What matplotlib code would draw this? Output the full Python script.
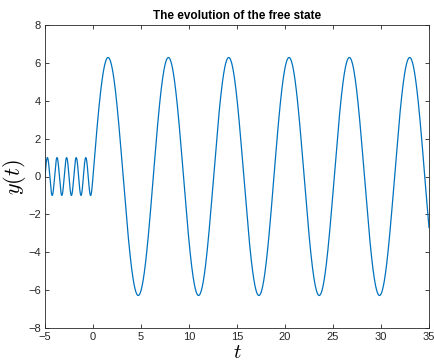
import numpy as np
import matplotlib.pyplot as plt

# curve parameters
t_start, t_switch, t_end = -5.0, 0.0, 35.0
amp_before, period_before = 1.0, 1.0          # small oscillation for t < 0
amp_after, period_after = 2 * np.pi, 2 * np.pi  # free state for t >= 0

x_ticks = [-5, 0, 5, 10, 15, 20, 25, 30, 35]
y_ticks = [-8, -6, -4, -2, 0, 2, 4, 6, 8]

t1 = np.linspace(t_start, t_switch, 800)
t2 = np.linspace(t_switch, t_end, 3000)
y1 = amp_before * np.sin(2 * np.pi * t1 / period_before)
y2 = amp_after * np.sin(2 * np.pi * t2 / period_after)
t = np.concatenate([t1, t2])
y = np.concatenate([y1, y2])

plt.rcParams['font.family'] = ['Liberation Sans', 'DejaVu Sans']
plt.rcParams['mathtext.fontset'] = 'cm'

fig = plt.figure(figsize=(4.34, 3.63), dpi=100)
ax = fig.add_axes([45 / 434, 1 - 328 / 363, 384 / 434, 303 / 363])
ax.plot(t, y, color='#0072BD', linewidth=0.9)

ax.set_xlim(-5, 35)
ax.set_ylim(-8, 8)
ax.set_xticks(x_ticks)
ax.set_yticks(y_ticks)
ax.tick_params(direction='in', length=3, width=0.6, labelsize=8,
               colors='#262626', top=True, right=True, pad=3)
for s in ax.spines.values():
    s.set_color('#262626')
    s.set_linewidth(0.6)

ax.set_title('The evolution of the free state', fontsize=8.5, fontweight='bold', pad=4)
ax.set_xlabel('$t$', fontsize=15, labelpad=0.5)
ax.set_ylabel('$y(t)$', fontsize=16, labelpad=0)

fig.savefig('out.png', dpi=100)
